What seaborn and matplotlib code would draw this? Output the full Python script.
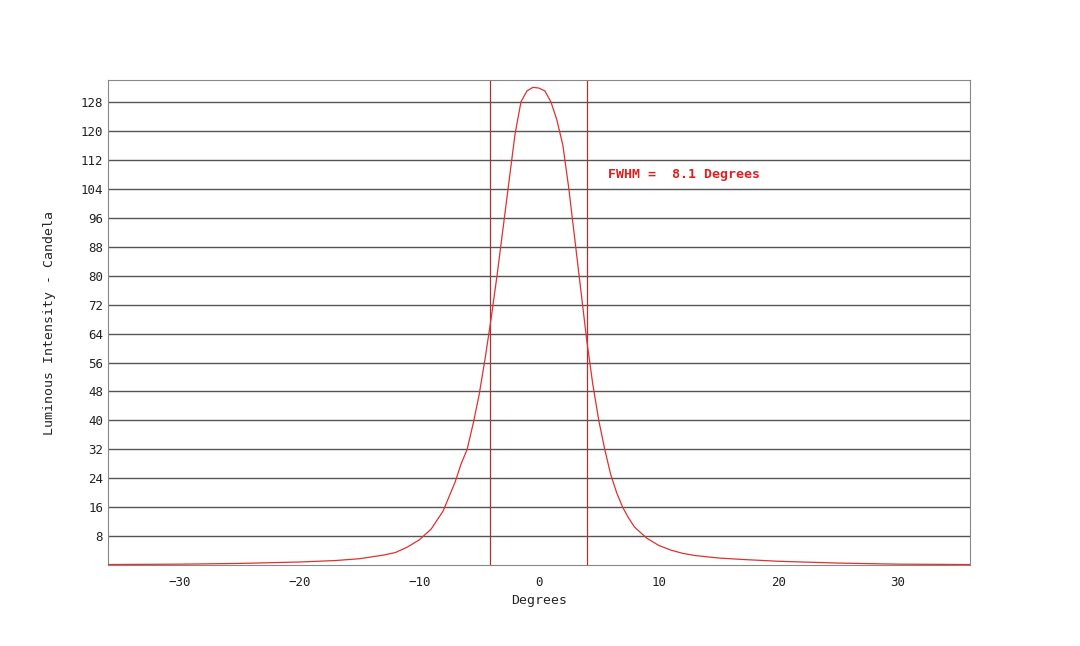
import matplotlib
matplotlib.use("Agg")
import matplotlib.pyplot as plt
import seaborn as sns
import pandas as pd

degrees = [-36,-30,-25,-20,-17,-15,-13,-12,-11,-10,-9,-8,-7.5,-7,-6.5,-6,-5.5,-5,-4.5,-4,-3.5,-3,-2.5,-2,-1.5,-1,-0.5,0,0.5,1,1.5,2,2.5,3,3.5,4,4.5,5,5.5,6,6.5,7,7.5,8,9,10,11,12,13,15,17,20,25,30,36]
candela = [0.2,0.3,0.5,0.9,1.3,1.8,2.8,3.5,5,7,10,15,19,23,28,32,39,47,57,68,80,93,106,119,128,131,132,131.8,131,128,123,116,104,90,76,62,50,40,32,25,20,16,13,10.5,7.5,5.5,4.2,3.3,2.7,2,1.6,1.1,0.6,0.3,0.2]
fwhm_left, fwhm_right = -4.1, 4.0
yticks = [8,16,24,32,40,48,56,64,72,80,88,96,104,112,120,128]
xticks = [-30,-20,-10,0,10,20,30]

sns.set_style("white")
plt.rcParams['font.family'] = ['DejaVu Sans Mono']
fig = plt.figure(figsize=(10.8, 6.46), dpi=100)
ax = fig.add_axes([0.1, 0.125, 0.798, 0.751])
for y in yticks:
    ax.axhline(y, color="#555555", lw=1.0, zorder=1)
df = pd.DataFrame({"Degrees": degrees, "Candela": candela})
sns.lineplot(data=df, x="Degrees", y="Candela", ax=ax, color="#e03030", lw=0.9, zorder=3)
ax.axvline(fwhm_left, color="#b03030", lw=0.9, zorder=2)
ax.axvline(fwhm_right, color="#b03030", lw=0.9, zorder=2)
ax.text(5.8, 108, "FWHM =  8.1 Degrees", color="#dd2020", fontsize=9.5, fontweight="bold", va="center")
ax.set_xlim(-36, 36)
ax.set_ylim(0, 134)
ax.set_xticks(xticks)
ax.set_yticks(yticks)
ax.tick_params(labelsize=9, length=4, direction="in", colors="#222222")
ax.tick_params(axis="x", direction="out")
ax.set_xlabel("Degrees", fontsize=9.5)
ax.set_ylabel("Luminous Intensity - Candela", fontsize=9.5, labelpad=18)
for s in ax.spines.values():
    s.set_color("#888888")
fig.savefig("out.png", dpi=100)
